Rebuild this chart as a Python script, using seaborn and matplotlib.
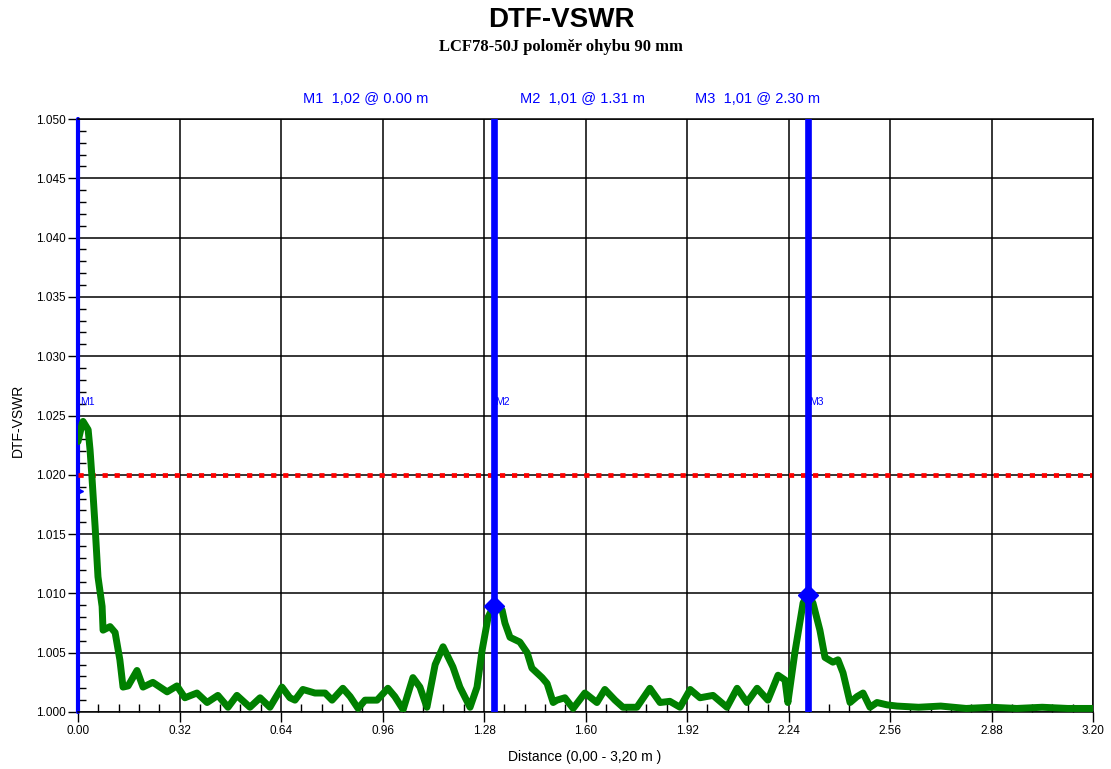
import matplotlib
matplotlib.use("Agg")
import matplotlib.pyplot as plt
import seaborn as sns
import pandas as pd
from matplotlib.ticker import MultipleLocator, FormatStrFormatter

# ---------------- data ----------------
distance = [0.00, 0.013, 0.016, 0.032, 0.038, 0.044, 0.054, 0.063, 0.076, 0.079,
            0.101, 0.117, 0.132, 0.142, 0.158, 0.186, 0.205, 0.236, 0.281, 0.312,
            0.337, 0.375, 0.407, 0.441, 0.473, 0.501, 0.542, 0.574, 0.605, 0.643,
            0.668, 0.684, 0.709, 0.747, 0.779, 0.801, 0.835, 0.858, 0.883, 0.905,
            0.943, 0.977, 0.999, 1.025, 1.056, 1.078, 1.100, 1.126, 1.151, 1.182,
            1.204, 1.236, 1.258, 1.274, 1.293, 1.310, 1.337, 1.346, 1.362, 1.393,
            1.416, 1.431, 1.463, 1.479, 1.498, 1.510, 1.535, 1.561, 1.598, 1.636,
            1.661, 1.693, 1.718, 1.762, 1.803, 1.835, 1.866, 1.898, 1.930, 1.961,
            2.002, 2.046, 2.078, 2.109, 2.141, 2.175, 2.207, 2.229, 2.238, 2.260,
            2.286, 2.300, 2.317, 2.339, 2.355, 2.380, 2.396, 2.412, 2.434, 2.456,
            2.475, 2.497, 2.519, 2.551, 2.582, 2.65, 2.72, 2.80, 2.88, 2.96,
            3.04, 3.12, 3.20]
vswr = [1.0228, 1.0243, 1.0245, 1.0238, 1.0221, 1.0198, 1.0156, 1.0114, 1.0089, 1.0069,
        1.0072, 1.0067, 1.0044, 1.0021, 1.0022, 1.0035, 1.0021, 1.0025, 1.0017, 1.0022,
        1.0012, 1.0016, 1.0008, 1.0014, 1.0004, 1.0014, 1.0004, 1.0012, 1.0004, 1.0021,
        1.0012, 1.0010, 1.0019, 1.0016, 1.0016, 1.0010, 1.0020, 1.0013, 1.0003, 1.0010,
        1.0010, 1.0020, 1.0013, 1.0002, 1.0029, 1.0021, 1.0004, 1.0040, 1.0055, 1.0038,
        1.0021, 1.0004, 1.0021, 1.0052, 1.0080, 1.0089, 1.0086, 1.0075, 1.0063, 1.0059,
        1.0050, 1.0037, 1.0029, 1.0024, 1.0008, 1.0010, 1.0012, 1.0003, 1.0016, 1.0008,
        1.0019, 1.0010, 1.0004, 1.0004, 1.0020, 1.0008, 1.0009, 1.0004, 1.0019, 1.0012,
        1.0014, 1.0004, 1.0020, 1.0008, 1.0020, 1.0010, 1.0031, 1.0027, 1.0008, 1.0050,
        1.0092, 1.0099, 1.0092, 1.0069, 1.0046, 1.0042, 1.0044, 1.0033, 1.0008, 1.0013,
        1.0016, 1.0004, 1.0008, 1.0006, 1.0005, 1.0004, 1.0005, 1.0003, 1.0004, 1.0003,
        1.0004, 1.0003, 1.0003]

limit_line = 1.020
marker_names = ["M1", "M2", "M3"]
marker_pos = [0.00, 1.31, 2.30]
marker_val = [1.0245, 1.0089, 1.0099]
marker_readout = ["M1  1,02 @ 0.00 m", "M2  1,01 @ 1.31 m", "M3  1,01 @ 2.30 m"]
m1_arrow = (0.006, 1.0186)

title = "DTF-VSWR"
subtitle = "LCF78-50J poloměr ohybu 90 mm"
xlabel = "Distance (0,00 - 3,20 m )"
ylabel = "DTF-VSWR"

# ---------------- style ----------------
sns.set_style("white")
plt.rcParams["font.family"] = ["Liberation Sans", "DejaVu Sans"]
plt.rcParams["text.color"] = "black"
plt.rcParams["axes.labelcolor"] = "black"
plt.rcParams["xtick.color"] = "black"
plt.rcParams["ytick.color"] = "black"

W, H = 1111, 769
fig = plt.figure(figsize=(W / 100, H / 100), dpi=100)
ax = fig.add_axes([78 / W, (H - 712) / H, (1093 - 78) / W, (712 - 119) / H])
ax.set_axisbelow(True)

df = pd.DataFrame({"Distance": distance, "DTF-VSWR": vswr})

# limit line
ax.axhline(limit_line, color="#ff0000", lw=3.4, ls=(0, (1.1, 1.45)),
           dash_capstyle="butt", zorder=2)

# trace
sns.lineplot(data=df, x="Distance", y="DTF-VSWR", color="#008000", lw=5,
             ax=ax, zorder=3, solid_joinstyle="round", solid_capstyle="round")

# markers
blue = "#0000ff"
for i, (name, pos, val) in enumerate(zip(marker_names, marker_pos, marker_val)):
    if i == 0:
        ax.axvline(pos, color=blue, lw=3, zorder=0.6, clip_on=False)
    else:
        ax.axvline(pos, color=blue, lw=4.8, zorder=4)
        ax.plot([pos], [val], marker="D", ms=10, color=blue, zorder=5)
    ax.text(pos + 0.006, 1.0257, name, color=blue, fontsize=7.5,
            ha="left", va="bottom", zorder=6)
ax.plot([m1_arrow[0]], [m1_arrow[1]], marker=">", ms=5, color=blue, zorder=5)

# axes
ax.set_xlim(0, 3.20)
ax.set_ylim(1.000, 1.050)
ax.xaxis.set_major_locator(MultipleLocator(0.32))
ax.xaxis.set_minor_locator(MultipleLocator(0.064))
ax.yaxis.set_major_locator(MultipleLocator(0.005))
ax.yaxis.set_minor_locator(MultipleLocator(0.001))
ax.xaxis.set_major_formatter(FormatStrFormatter("%.2f"))
ax.yaxis.set_major_formatter(FormatStrFormatter("%.3f"))
ax.grid(True, which="major", color="black", lw=1.1)
ax.grid(False, which="minor")
ax.tick_params(which="both", bottom=True, left=True, top=False, right=False,
               colors="black", labelcolor="black")
ax.tick_params(which="major", direction="out", length=7, width=1,
               labelsize=8.5, pad=2)
ax.tick_params(which="minor", direction="in", length=6, width=1)
for s in ["top", "right", "bottom"]:
    ax.spines[s].set_color("black")
    ax.spines[s].set_linewidth(1.1)
ax.spines["left"].set_visible(False)
ax.set_xlabel("")
ax.set_ylabel("")

# texts
fig.text(561 / W, 1 - 20 / H, title, ha="center", va="center",
         fontsize=20, fontweight="bold", color="black")
fig.text(561 / W, 1 - 47 / H, subtitle, ha="center", va="center",
         fontsize=12, fontweight="bold", color="black",
         family=["Liberation Serif", "DejaVu Serif"])
for txt, xc in zip(marker_readout, [366, 582, 758]):
    fig.text(xc / W, 1 - 99 / H, txt, ha="center", va="center",
             fontsize=10.5, color=blue)
fig.text(18 / W, 1 - 420 / H, ylabel, rotation=90, ha="center", va="center",
         fontsize=10, color="black")
fig.text(585 / W, 1 - 757 / H, xlabel, ha="center", va="center", fontsize=10,
         color="black")

fig.savefig("out.png", dpi=100, facecolor="white")
